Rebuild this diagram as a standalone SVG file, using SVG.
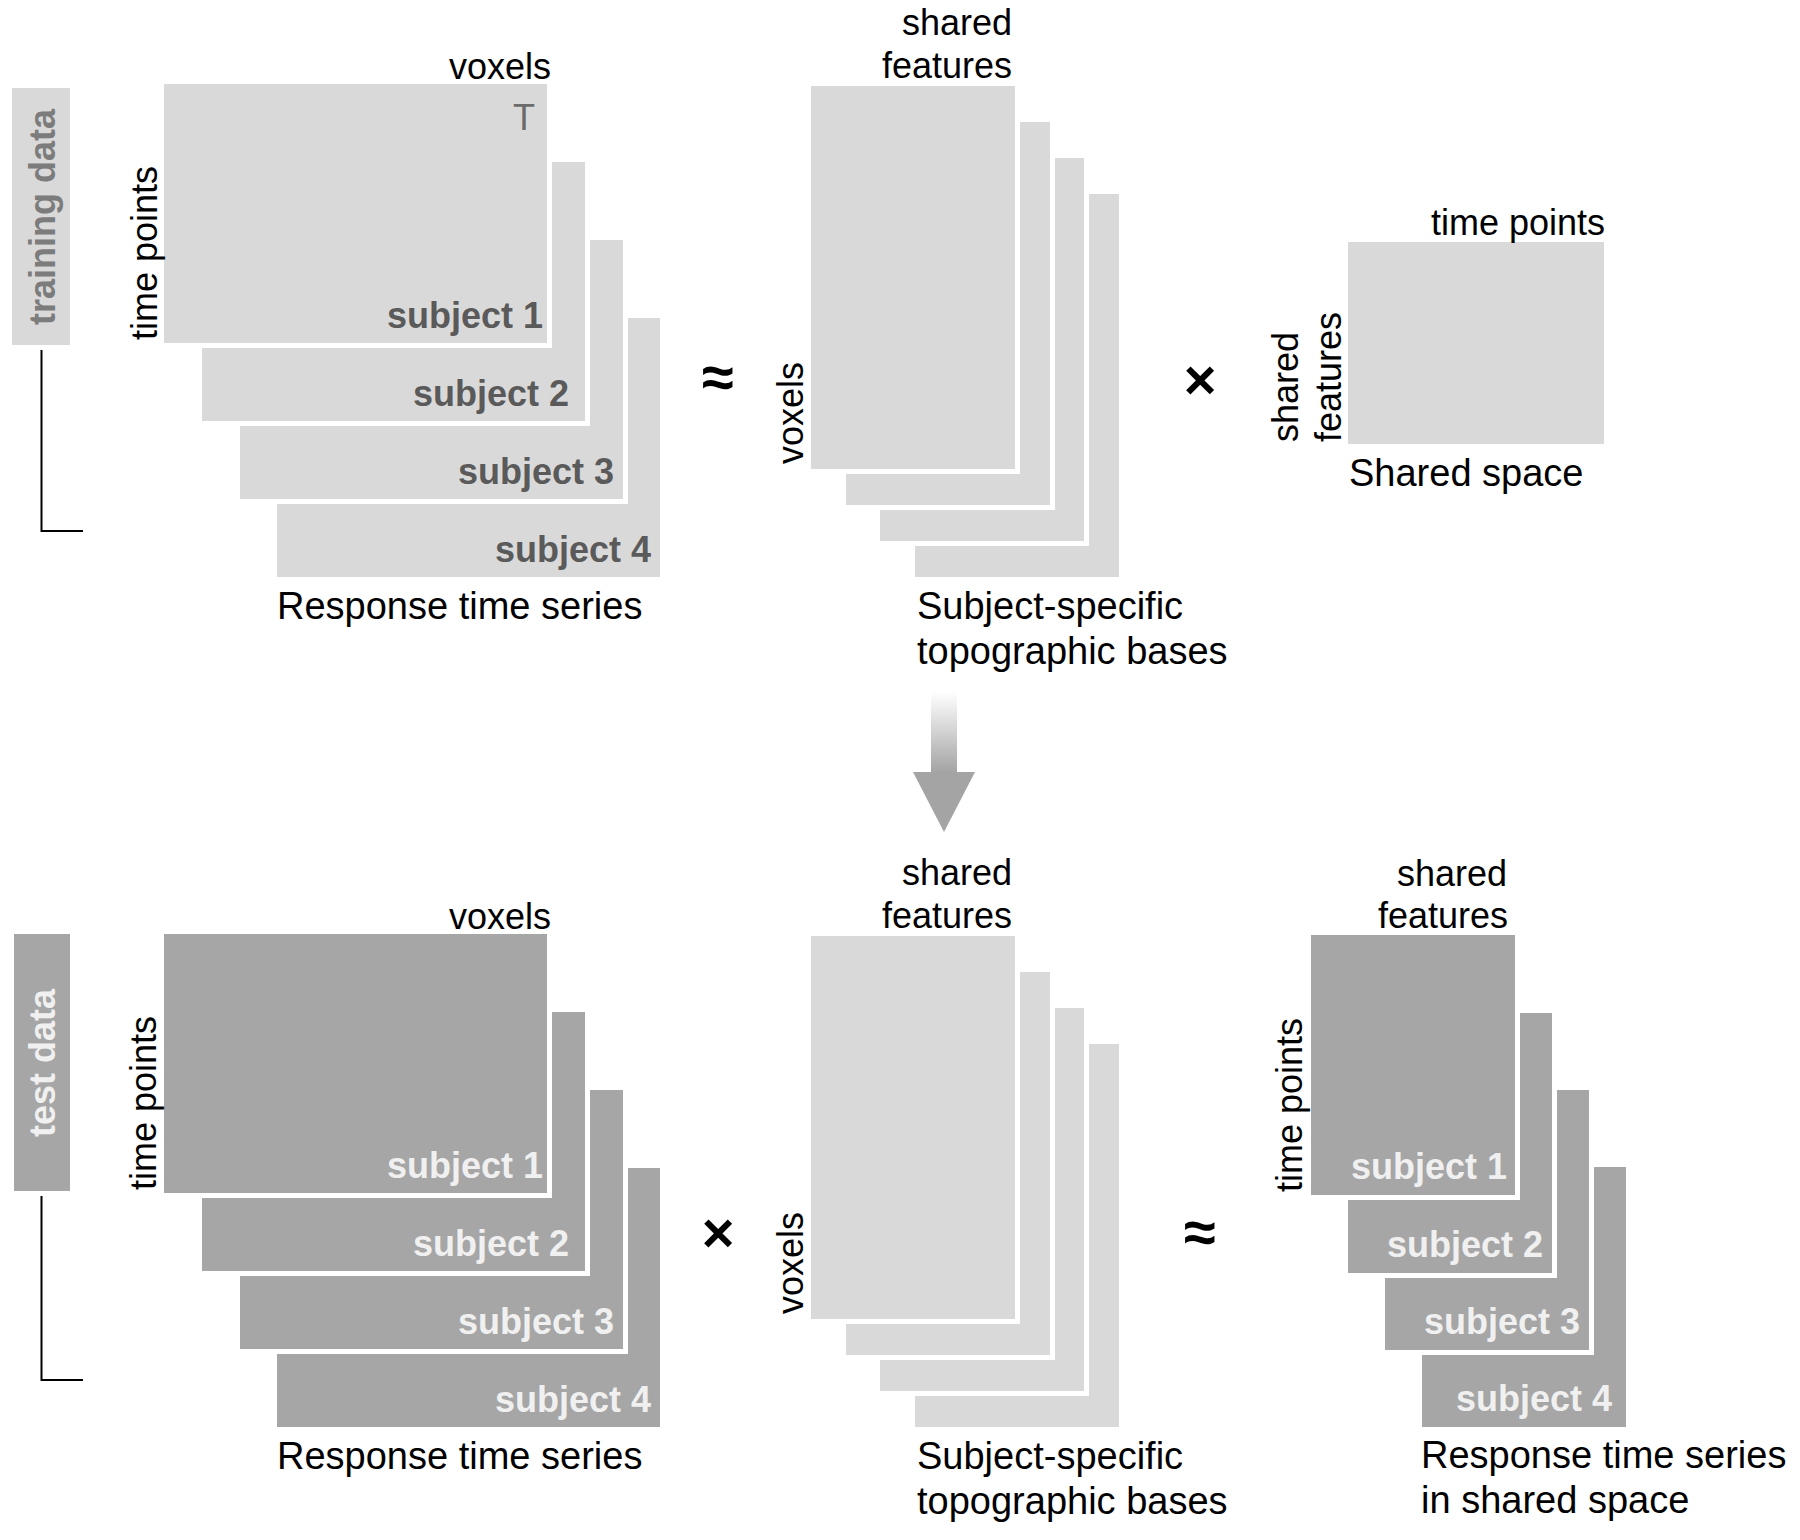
<svg xmlns="http://www.w3.org/2000/svg" width="1800" height="1540" viewBox="0 0 1800 1540">
<style>
text{font-family:"Liberation Sans",Arial,sans-serif;}
.ax{font-size:36px;fill:#000;}
.lb{font-size:38px;fill:#000;}
.end{text-anchor:end;}
.sl{font-size:36px;font-weight:bold;fill:#5a5a5a;text-anchor:end;}
.sd{font-size:36px;font-weight:bold;fill:#f0f0f0;text-anchor:end;}
.approx{font-size:58px;font-weight:bold;fill:#000;text-anchor:middle;}
.times{font-size:56px;font-weight:bold;fill:#000;text-anchor:middle;}
.lt{fill:#d9d9d9;stroke:#fff;stroke-width:10;paint-order:stroke;}
.dk{fill:#a6a6a6;stroke:#fff;stroke-width:10;paint-order:stroke;}
.bracket{fill:none;stroke:#000;stroke-width:2;}
</style>
<defs>
<linearGradient id="arrowGrad" gradientUnits="userSpaceOnUse" x1="0" y1="692" x2="0" y2="772">
<stop offset="0" stop-color="#ffffff"/>
<stop offset="1" stop-color="#a4a4a4"/>
</linearGradient>
</defs>

<g id="training-label">
<rect x="12" y="88" width="58" height="257" fill="#d9d9d9"/>
<text transform="translate(55,217) rotate(-90)" style="font-size:36px;font-weight:bold;fill:#7c7c7c;text-anchor:middle">training data</text>
<path class="bracket" d="M41.5 350 V531 H83"/>
</g>

<g id="train-response">
<rect class="lt" x="277" y="318" width="383" height="259"/>
<rect class="lt" x="240" y="240" width="383" height="259"/>
<rect class="lt" x="202" y="162" width="383" height="259"/>
<rect class="lt" x="164" y="84" width="383" height="259"/>
<text class="sl" x="543" y="328">subject 1</text>
<text class="sl" x="569" y="406">subject 2</text>
<text class="sl" x="614" y="484">subject 3</text>
<text class="sl" x="651" y="562">subject 4</text>
<text class="ax end" x="535" y="130" style="fill:#6b6b6b">T</text>
<text class="ax end" x="551" y="79">voxels</text>
<text class="ax" transform="translate(157,340) rotate(-90)">time points</text>
<text class="lb" x="277" y="619">Response time series</text>
</g>

<g id="train-bases">
<rect class="lt" x="915" y="194" width="204" height="383"/>
<rect class="lt" x="880" y="158" width="204" height="383"/>
<rect class="lt" x="846" y="122" width="204" height="383"/>
<rect class="lt" x="811" y="86" width="204" height="383"/>
<text class="ax end" x="1012" y="35">shared</text>
<text class="ax end" x="1012" y="78">features</text>
<text class="ax" transform="translate(803,464) rotate(-90)">voxels</text>
<text class="lb" x="917" y="619">Subject-specific</text>
<text class="lb" x="917" y="664">topographic bases</text>
</g>

<g id="shared-space">
<rect x="1348" y="242" width="256" height="202" fill="#d9d9d9"/>
<text class="ax end" x="1605" y="235">time points</text>
<text class="ax" transform="translate(1298,442) rotate(-90)">shared</text>
<text class="ax" transform="translate(1341,442) rotate(-90)">features</text>
<text class="lb" x="1349" y="486">Shared space</text>
</g>

<g id="test-label">
<rect x="14" y="934" width="56" height="257" fill="#a6a6a6"/>
<text transform="translate(55,1063) rotate(-90)" style="font-size:36px;font-weight:bold;fill:#f0f0f0;text-anchor:middle">test data</text>
<path class="bracket" d="M41.5 1196 V1380 H83"/>
</g>

<g id="test-response">
<rect class="dk" x="277" y="1168" width="383" height="259"/>
<rect class="dk" x="240" y="1090" width="383" height="259"/>
<rect class="dk" x="202" y="1012" width="383" height="259"/>
<rect class="dk" x="164" y="934" width="383" height="259"/>
<text class="sd" x="543" y="1178">subject 1</text>
<text class="sd" x="569" y="1256">subject 2</text>
<text class="sd" x="614" y="1334">subject 3</text>
<text class="sd" x="651" y="1412">subject 4</text>
<text class="ax end" x="551" y="929">voxels</text>
<text class="ax" transform="translate(156,1190) rotate(-90)">time points</text>
<text class="lb" x="277" y="1469">Response time series</text>
</g>

<g id="test-bases">
<rect class="lt" x="915" y="1044" width="204" height="383"/>
<rect class="lt" x="880" y="1008" width="204" height="383"/>
<rect class="lt" x="846" y="972" width="204" height="383"/>
<rect class="lt" x="811" y="936" width="204" height="383"/>
<text class="ax end" x="1012" y="885">shared</text>
<text class="ax end" x="1012" y="928">features</text>
<text class="ax" transform="translate(803,1314) rotate(-90)">voxels</text>
<text class="lb" x="917" y="1469">Subject-specific</text>
<text class="lb" x="917" y="1514">topographic bases</text>
</g>

<g id="test-shared">
<rect class="dk" x="1422" y="1167" width="204" height="260"/>
<rect class="dk" x="1385" y="1090" width="204" height="260"/>
<rect class="dk" x="1348" y="1013" width="204" height="260"/>
<rect class="dk" x="1311" y="935" width="204" height="260"/>
<text class="sd" x="1507" y="1179">subject 1</text>
<text class="sd" x="1543" y="1257">subject 2</text>
<text class="sd" x="1580" y="1334">subject 3</text>
<text class="sd" x="1612" y="1411">subject 4</text>
<text class="ax end" x="1507" y="886">shared</text>
<text class="ax end" x="1508" y="928">features</text>
<text class="ax" transform="translate(1302,1192) rotate(-90)">time points</text>
<text class="lb" x="1421" y="1468">Response time series</text>
<text class="lb" x="1421" y="1513">in shared space</text>
</g>

<g id="connectors">
<rect x="931" y="692" width="26" height="81" fill="url(#arrowGrad)"/>
<polygon points="913,772 975,772 944,832" fill="#a4a4a4"/>
<text class="approx" x="718" y="397">≈</text>
<text class="times" x="1200" y="399">×</text>
<text class="times" x="718" y="1252">×</text>
<text class="approx" x="1200" y="1252">≈</text>
</g>
</svg>
